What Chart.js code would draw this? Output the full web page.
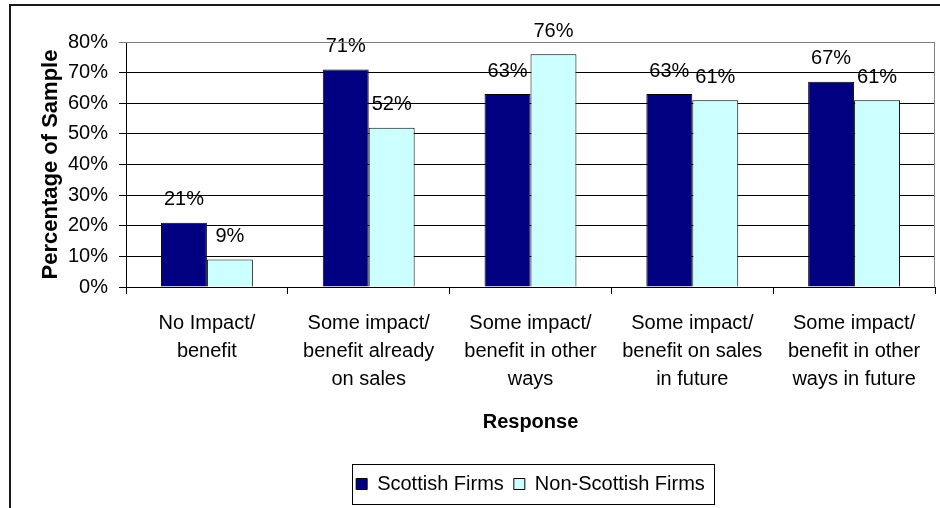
<!DOCTYPE html>
<html>
<head>
<meta charset="utf-8">
<script src="https://cdn.jsdelivr.net/npm/chart.js@4/dist/chart.umd.min.js"></script>
<style>
    html, body { margin: 0; padding: 0; background: #fff; }
    #wrap { width: 940px; height: 508px; }
</style>
</head>
<body>
<div id="wrap"><canvas id="barChart" width="940" height="508"></canvas></div>
<script>
const responses = [
    ['No Impact/', 'benefit'],
    ['Some impact/', 'benefit already', 'on sales'],
    ['Some impact/', 'benefit in other', 'ways'],
    ['Some impact/', 'benefit on sales', 'in future'],
    ['Some impact/', 'benefit in other', 'ways in future']
];
const scottish = [21, 71, 63, 63, 67];
const nonScottish = [9, 52, 76, 61, 61];
const seriesNames = ['Scottish Firms', 'Non-Scottish Firms'];

const fontFamily = "'Liberation Sans', Arial, sans-serif";

// white page with the dark frame on the left and top edges
const framePlugin = {
    id: 'frame',
    beforeDraw(chart) {
        const ctx = chart.ctx;
        ctx.save();
        ctx.fillStyle = '#fff';
        ctx.fillRect(0, 0, chart.width, chart.height);
        ctx.strokeStyle = '#1a1a1a';
        ctx.lineWidth = 2;
        ctx.beginPath();
        ctx.moveTo(10, chart.height);
        ctx.lineTo(10, 5);
        ctx.lineTo(chart.width, 5);
        ctx.stroke();
        ctx.restore();
    },
    afterDraw(chart) {
        // grey plot border on top and right
        const a = chart.chartArea;
        const ctx = chart.ctx;
        ctx.save();
        ctx.strokeStyle = '#808080';
        ctx.lineWidth = 1;
        ctx.beginPath();
        ctx.moveTo(a.left, a.top + 0.5);
        ctx.lineTo(a.right - 0.5, a.top + 0.5);
        ctx.lineTo(a.right - 0.5, a.bottom);
        ctx.stroke();

        // box round the legend
        const boxes = chart.legend.legendHitBoxes;
        if (boxes && boxes.length) {
            const first = boxes[0];
            const last = boxes[boxes.length - 1];
            const x0 = first.left - 4;
            const x1 = last.left + last.width + 9;
            const y0 = first.top - 10;
            const y1 = first.top + first.height + 10;
            ctx.strokeStyle = '#000';
            ctx.strokeRect(Math.round(x0) + 0.5, Math.round(y0) + 0.5, Math.round(x1 - x0), Math.round(y1 - y0));
        }
        ctx.restore();
    }
};

// percentage printed above each bar
const valueLabels = {
    id: 'valueLabels',
    afterDatasetsDraw(chart) {
        const ctx = chart.ctx;
        ctx.save();
        ctx.font = '20px ' + fontFamily;
        ctx.fillStyle = '#000';
        ctx.textAlign = 'center';
        ctx.textBaseline = 'middle';
        chart.data.datasets.forEach((ds, i) => {
            chart.getDatasetMeta(i).data.forEach((bar, j) => {
                ctx.fillText(ds.data[j] + '%', bar.x, bar.y - 23);
            });
        });
        ctx.restore();
    }
};

new Chart(document.getElementById('barChart'), {
    type: 'bar',
    data: {
        labels: responses,
        datasets: [
            {
                label: seriesNames[0],
                data: scottish,
                backgroundColor: '#000080',
                borderColor: '#000',
                borderWidth: 1,
                categoryPercentage: 0.568,
                barPercentage: 1.0
            },
            {
                label: seriesNames[1],
                data: nonScottish,
                backgroundColor: '#CCFFFF',
                borderColor: '#000',
                borderWidth: 1,
                categoryPercentage: 0.568,
                barPercentage: 1.0
            }
        ]
    },
    options: {
        responsive: false,
        animation: false,
        layout: {
            padding: { left: 0, top: 42, right: 5, bottom: 4 }
        },
        scales: {
            x: {
                grid: {
                    drawOnChartArea: false,
                    color: '#000',
                    tickLength: 7
                },
                border: { color: '#000' },
                ticks: {
                    color: '#000',
                    padding: 15,
                    maxRotation: 0,
                    autoSkip: false,
                    font: { family: fontFamily, size: 20, lineHeight: 1.4 }
                },
                title: {
                    display: true,
                    text: 'Response',
                    color: '#000',
                    padding: 30,
                    font: { family: fontFamily, size: 20, weight: 'bold', lineHeight: 1.2 }
                },
                afterFit(scale) { scale.height = 177; }
            },
            y: {
                min: 0,
                max: 80,
                grid: {
                    color: ctx => (ctx.tick && ctx.tick.value === 80 ? '#808080' : '#000'),
                    tickLength: 7
                },
                border: { color: '#000' },
                ticks: {
                    stepSize: 10,
                    color: '#000',
                    padding: 11,
                    font: { family: fontFamily, size: 20 },
                    callback: v => v + '%'
                },
                title: {
                    display: true,
                    text: 'Percentage of Sample',
                    color: '#000',
                    padding: 38,
                    font: { family: fontFamily, size: 22, weight: 'bold', lineHeight: 1.2 }
                },
                afterFit(scale) { scale.width = 126; }
            }
        },
        plugins: {
            legend: {
                position: 'bottom',
                fullSize: false,
                labels: {
                    color: '#000',
                    boxWidth: 11,
                    boxHeight: 11,
                    padding: 10,
                    font: { family: fontFamily, size: 20 }
                }
            },
            tooltip: { enabled: false }
        }
    },
    plugins: [framePlugin, valueLabels]
});
</script>
</body>
</html>
